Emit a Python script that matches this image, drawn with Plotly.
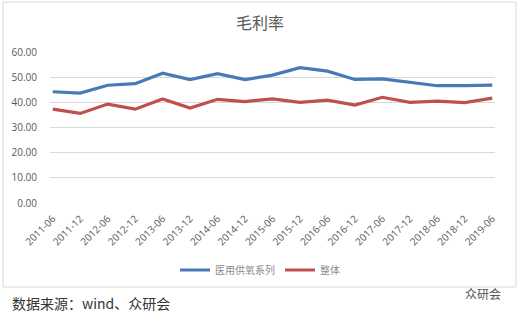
import plotly.graph_objects as go

categories = ["2011-06", "2011-12", "2012-06", "2012-12", "2013-06", "2013-12",
              "2014-06", "2014-12", "2015-06", "2015-12", "2016-06", "2016-12",
              "2017-06", "2017-12", "2018-06", "2018-12", "2019-06"]
medical_oxygen = [44.2, 43.7, 46.8, 47.4, 51.6, 49.0, 51.4, 49.0, 50.8, 53.8,
                  52.4, 49.1, 49.3, 48.0, 46.6, 46.6, 46.8]
overall = [37.3, 35.6, 39.3, 37.3, 41.3, 37.7, 41.2, 40.3, 41.4, 40.0,
           40.9, 38.9, 42.0, 40.0, 40.5, 39.9, 41.7]
series_names = ["医用供氧系列", "整体"]
y_ticks = [0, 10, 20, 30, 40, 50, 60]

W, H = 520, 321
L, R, T, B = 50, 25, 52, 118
pw, ph = W - L - R, H - T - B

def px_x(px):
    return (px - L) / pw

def px_y(py):
    return 1 - (py - T) / ph

font_cjk = "Noto Sans CJK SC, Noto Sans, sans-serif"

fig = go.Figure()
fig.add_trace(go.Scatter(x=list(range(len(categories))), y=medical_oxygen, mode="lines",
                         name=series_names[0], line=dict(color="#4a7ab5", width=3.2)))
fig.add_trace(go.Scatter(x=list(range(len(categories))), y=overall, mode="lines",
                         name=series_names[1], line=dict(color="#c0504d", width=3.2)))

fig.update_layout(
    width=W, height=H,
    margin=dict(l=L, r=R, t=T, b=B, pad=0),
    paper_bgcolor="white", plot_bgcolor="white",
    font=dict(family=font_cjk, color="#595959", size=10),
    showlegend=True,
    legend=dict(orientation="h", x=px_x(260), xanchor="center", y=px_y(270), yanchor="middle",
                font=dict(size=10, color="#8c8c8c"), itemwidth=30, tracegroupgap=0,
                bgcolor="rgba(0,0,0,0)"),
    xaxis=dict(range=[-0.1, 16.1], tickmode="array", tickvals=list(range(len(categories))),
               ticktext=categories, tickangle=-45, showgrid=False, zeroline=False,
               showline=False, ticks="", ticklabelstandoff=7,
               tickfont=dict(size=10, color="#595959", family="Open Sans, sans-serif")),
    yaxis=dict(range=[0, 60], tickvals=y_ticks, tickformat=".2f", showgrid=True,
               gridcolor="#d9d9d9", gridwidth=1, zeroline=False, showline=False, ticks="",
               ticklabelstandoff=12,
               tickfont=dict(size=10, color="#595959", family="Open Sans, sans-serif")),
)

# chart border
fig.add_shape(type="rect", xref="paper", yref="paper",
              x0=px_x(3), x1=px_x(516), y0=px_y(287), y1=px_y(2),
              line=dict(color="#d9d9d9", width=1), fillcolor="rgba(0,0,0,0)", layer="below")

fig.add_annotation(text="毛利率", xref="paper", yref="paper", x=px_x(260), y=px_y(22),
                   xanchor="center", yanchor="middle", showarrow=False,
                   font=dict(size=16, color="#595959", family=font_cjk))
fig.add_annotation(text="数据来源：wind、众研会", xref="paper", yref="paper",
                   x=px_x(10), y=px_y(303), xanchor="left", yanchor="middle", showarrow=False,
                   font=dict(size=14, color="#333333", family=font_cjk))
fig.add_annotation(text="众研会", xref="paper", yref="paper",
                   x=px_x(503), y=px_y(293), xanchor="right", yanchor="middle", showarrow=False,
                   font=dict(size=12, color="#555555", family=font_cjk))

fig.write_html("out.html")
